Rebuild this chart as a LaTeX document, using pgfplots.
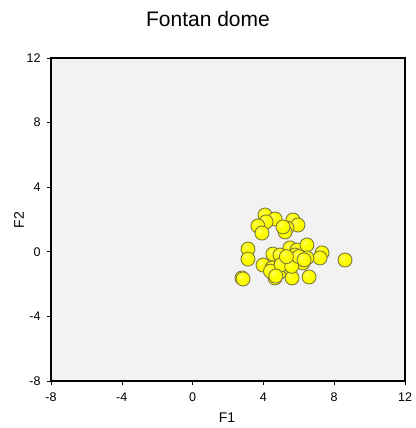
\documentclass[border=0pt]{standalone}
\usepackage{pgfplots}
\pgfplotsset{compat=1.18}
\usepackage{fontspec}
\setmainfont{Liberation Sans}
\definecolor{rim}{RGB}{125,120,60}
% glossy yellow sphere for the scores
\pgfdeclareradialshading{yball}{\pgfpoint{-10bp}{10bp}}{%
  color(0bp)=(yellow!60!white); color(14bp)=(yellow); color(42bp)=(yellow!97!black);
  color(58bp)=(yellow!70!black); color(100bp)=(yellow!70!black)}
\pgfdeclareplotmark{yball}{%
  \pgfpathcircle{\pgfpointorigin}{\pgfplotmarksize}%
  \pgfshadepath{yball}{0}%
  \pgfpathcircle{\pgfpointorigin}{\pgfplotmarksize}%
  \pgfusepathqstroke}
\begin{document}
\begin{tikzpicture}
\begin{axis}[
  at={(0,0)}, anchor=south west,
  scale only axis, width=354pt, height=323pt,
  xmin=-8, xmax=12, ymin=-8, ymax=12,
  xtick={-8,-4,0,4,8,12}, ytick={-8,-4,0,4,8,12},
  tick pos=left, tick align=outside,
  major tick length=4pt,
  axis background/.style={fill=black!5},
  axis line style={line width=1.1pt},
  tick style={black, line width=0.6pt},
  ticklabel style={font=\fontsize{12.5}{14}\selectfont},
  xticklabel style={yshift=-4pt},
  yticklabel style={xshift=-3pt},
  /pgf/number format/assume math mode=true,
]
\addplot[only marks, mark=yball, mark size=7pt,
  mark options={draw=rim, line width=0.9pt}] coordinates {
(4.09,2.28) (4.66,2.03) (4.15,1.85) (3.69,1.60) (3.92,1.16)
(5.67,1.97) (5.95,1.66) (5.33,1.47) (5.22,1.23) (5.11,1.54)
(3.13,0.17) (3.13,-0.45) (4.54,-0.14) (3.98,-0.82) (5.50,0.24)
(5.90,0.11) (6.46,0.42) (7.31,-0.07) (7.20,-0.38) (6.46,-0.38)
(6.07,-0.51) (5.22,-0.63) (4.94,-0.20) (4.49,-1.00) (4.94,-1.25)
(5.50,-1.00) (4.66,-1.62) (5.62,-1.62) (6.58,-1.56) (8.61,-0.51)
(2.79,-1.62) (2.85,-1.68) (6.24,-0.69) (5.79,-0.20) (4.40,-1.20)
(5.00,-0.80) (5.60,-0.90) (6.00,-0.30) (4.70,-1.50) (5.30,-0.30)
(6.30,-0.50)
};
\end{axis}
\node[anchor=base, font=\fontsize{21}{24}\selectfont] at (157pt,354pt) {Fontan dome};
\node[anchor=base, font=\fontsize{14}{16}\selectfont] at (176pt,-41pt) {F1};
\node[rotate=90, font=\fontsize{14}{16}\selectfont] at (-32pt,161pt) {F2};
\path (-51pt,-47pt) rectangle (363pt,381pt);
\end{tikzpicture}
\end{document}
